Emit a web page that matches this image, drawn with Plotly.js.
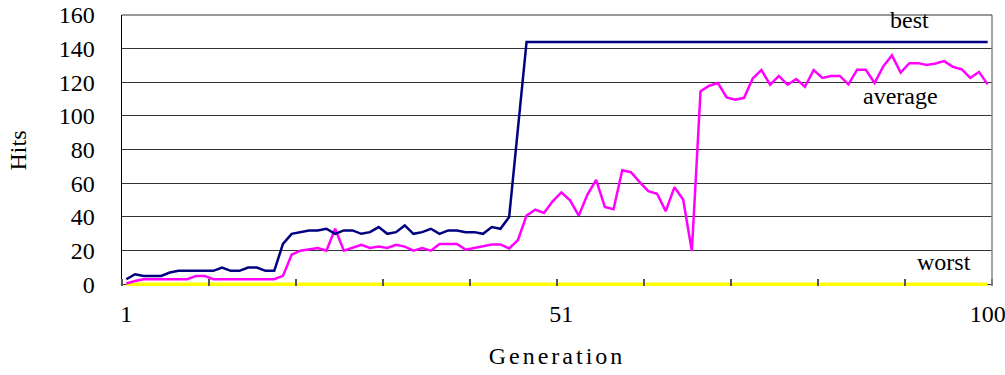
<!DOCTYPE html>
<html><head><meta charset="utf-8">
<script src="https://cdn.plot.ly/plotly-3.0.1.min.js"></script>
<style>
body{margin:0;background:#fff}
.xtitle{letter-spacing:3px}
</style>
</head><body>
<div id="chart" style="width:1005px;height:375px"></div>
<script>
const generations = [1,2,3,4,5,6,7,8,9,10,11,12,13,14,15,16,17,18,19,20,
21,22,23,24,25,26,27,28,29,30,31,32,33,34,35,36,37,38,39,40,
41,42,43,44,45,46,47,48,49,50,51,52,53,54,55,56,57,58,59,60,
61,62,63,64,65,66,67,68,69,70,71,72,73,74,75,76,77,78,79,80,
81,82,83,84,85,86,87,88,89,90,91,92,93,94,95,96,97,98,99,100];

const best = [3,6,5,5,5,7,8,8,8,8,
8,10,8,8,10,10,8,8,24,30,
31,32,32,33,30,32,32,30,31,34,
30,31,35,30,31,33,30,32,32,31,
31,30,34,33,40,92,144,144,144,144,
144,144,144,144,144,144,144,144,144,144,
144,144,144,144,144,144,144,144,144,144,
144,144,144,144,144,144,144,144,144,144,
144,144,144,144,144,144,144,144,144,144,
144,144,144,144,144,144,144,144,144,144];

const average = [0.5,2,3,3,3,3,3,3,5,5,
3,3,3,3,3,3,3,3,5,17.6,
20,20.6,21.6,20,33,20,21.6,23.5,21.6,22.4,
21.6,23.5,22.4,20,21.6,20,24,24,24,20.6,
21.7,22.7,23.7,23.7,21.3,26.2,40.8,44.4,42.4,49.3,
54.6,49.9,40.8,53.3,62,46,44.6,67.8,66.6,60.7,
55.3,53.8,43.5,57.7,50.4,19.8,114.7,118,119.6,111,
109.7,110.8,122.3,127.3,118.6,123.8,118.6,122,117.4,127.3,
122.6,123.8,123.8,118.8,127.5,127.5,119.6,129.5,136,125.8,
131.4,131.4,130.3,131.2,132.6,129.2,127.8,122.6,126.2,118.8];

const worst = [0,0,0,0,0,0,0,0,0,0,0,0,0,0,0,0,0,0,0,0,
0,0,0,0,0,0,0,0,0,0,0,0,0,0,0,0,0,0,0,0,
0,0,0,0,0,0,0,0,0,0,0,0,0,0,0,0,0,0,0,0,
0,0,0,0,0,0,0,0,0,0,0,0,0,0,0,0,0,0,0,0,
0,0,0,0,0,0,0,0,0,0,0,0,0,0,0,0,0,0,0,0];

const xTickVals = [1, 51, 100];
const xTickText = ['1', '51', '100'];
const seriesNames = ['best', 'average', 'worst'];

const serif = 'Liberation Serif, Times New Roman, serif';

const traces = [
  {x: generations, y: worst, name: seriesNames[2], mode: 'lines', line: {color: '#FFFF00', width: 3.5}},
  {x: generations, y: average, name: seriesNames[1], mode: 'lines', line: {color: '#FF00FF', width: 2.5}},
  {x: generations, y: best, name: seriesNames[0], mode: 'lines', line: {color: '#000080', width: 2.5}}
];

const layout = {
  width: 1005, height: 375,
  margin: {l: 122, r: 13, t: 14.5, b: 88.5},
  paper_bgcolor: '#fff', plot_bgcolor: '#fff',
  showlegend: false,
  font: {family: serif, size: 24, color: '#000'},
  xaxis: {
    range: [0.5, 100.5],
    tickmode: 'array', tickvals: xTickVals, ticktext: xTickText,
    ticks: '', showgrid: false, zeroline: false, showline: false,
    ticklabelstandoff: 11, ticklabeloverflow: 'allow',
    tickfont: {family: serif, size: 24, color: '#000'},
    minor: {tickmode: 'linear', tick0: 0.5, dtick: 10, ticks: 'inside', ticklen: 7, tickwidth: 1.5, tickcolor: '#555', showgrid: false},
    title: {text: 'Generation', font: {family: serif, size: 24, color: '#000'}, standoff: 21},
    fixedrange: true
  },
  yaxis: {
    range: [-1, 160], tickmode: 'array', tickvals: [0,20,40,60,80,100,120,140,160],
    ticks: '', showgrid: true, gridcolor: '#333', gridwidth: 1,
    zeroline: false, showline: true, linecolor: '#000', linewidth: 1.5,
    ticklabelstandoff: 21,
    tickfont: {family: serif, size: 24, color: '#000'},
    title: {text: 'Hits', font: {family: serif, size: 24, color: '#000'}, standoff: 25},
    fixedrange: true
  },
  shapes: [
    {type: 'line', xref: 'paper', yref: 'paper', x0: 1, x1: 1, y0: 0, y1: 1, line: {color: '#888', width: 1.5}},
    {type: 'line', xref: 'paper', yref: 'paper', x0: 0, x1: 1, y0: 1, y1: 1, line: {color: '#333', width: 1}}
  ],
  annotations: [
    {x: 91, y: 157, xref: 'x', yref: 'y', text: seriesNames[0], showarrow: false, font: {family: serif, size: 24, color: '#000'}},
    {x: 90, y: 112, xref: 'x', yref: 'y', text: seriesNames[1], showarrow: false, font: {family: serif, size: 24, color: '#000'}},
    {x: 95, y: 13, xref: 'x', yref: 'y', text: seriesNames[2], showarrow: false, font: {family: serif, size: 24, color: '#000'}}
  ]
};

Plotly.newPlot('chart', traces, layout, {displayModeBar: false, staticPlot: true});
</script>
</body></html>
